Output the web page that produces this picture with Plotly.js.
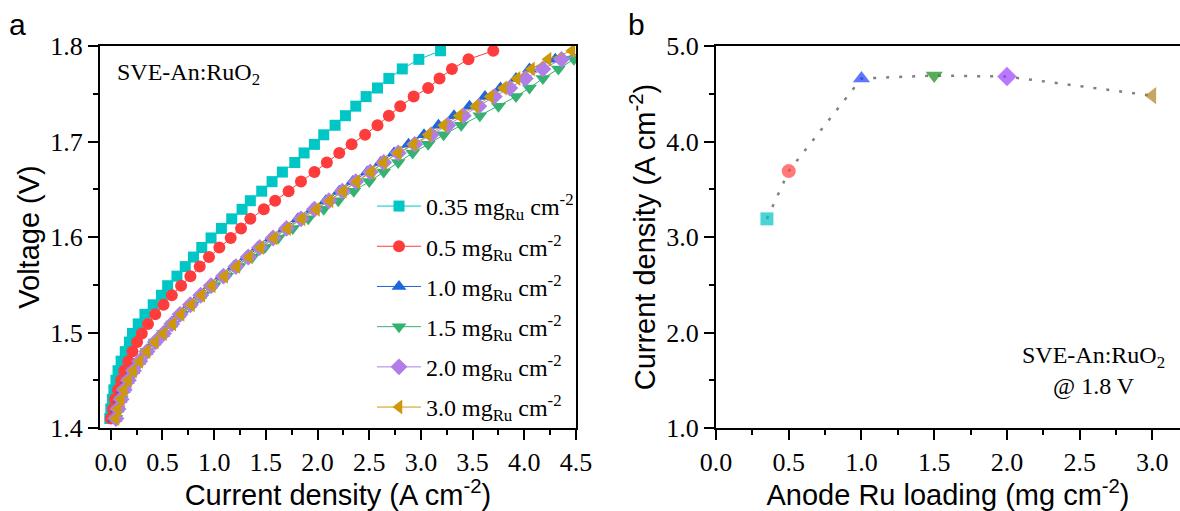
<!DOCTYPE html>
<html><head><meta charset="utf-8">
<script src="https://cdn.plot.ly/plotly-3.0.1.min.js"></script>
<style>html,body{margin:0;padding:0;background:#fff}#chart{width:1180px;height:511px}</style>
</head><body><div id="chart"></div>
<script>
// ---- Panel a: polarization curves (voltage in V, current density in A cm-2)
const voltage = [1.410,1.420,1.430,1.440,1.450,1.460,1.470,1.480,1.490,1.499,1.509,1.519,1.529,1.539,1.549,1.559,1.569,1.579,1.589,1.599,1.609,1.619,1.629,1.638,1.648,1.658,1.668,1.678,1.688,1.697,1.707,1.717,1.727,1.737,1.747,1.756,1.766,1.776,1.786,1.795];
const j_035 = [-0.01,0.00,0.015,0.03,0.05,0.07,0.10,0.14,0.18,0.21,0.265,0.33,0.41,0.49,0.55,0.64,0.72,0.80,0.88,0.97,1.07,1.17,1.27,1.35,1.46,1.56,1.66,1.78,1.87,1.97,2.06,2.17,2.27,2.37,2.47,2.58,2.69,2.82,2.98,3.19];
const j_05  = [0.00,0.02,0.04,0.07,0.10,0.13,0.17,0.21,0.255,0.30,0.36,0.43,0.51,0.59,0.68,0.77,0.86,0.95,1.05,1.16,1.26,1.35,1.48,1.59,1.72,1.84,1.97,2.09,2.21,2.33,2.46,2.58,2.69,2.80,2.93,3.07,3.18,3.30,3.46,3.70];
const j_10  = [0.04,0.06,0.09,0.12,0.16,0.21,0.27,0.34,0.42,0.50,0.58,0.66,0.76,0.86,0.96,1.07,1.19,1.31,1.42,1.55,1.68,1.81,1.95,2.08,2.21,2.34,2.48,2.61,2.74,2.88,3.03,3.17,3.32,3.47,3.62,3.77,3.92,4.05,4.30,4.66];
const j_15  = [0.05,0.07,0.10,0.13,0.17,0.22,0.28,0.35,0.43,0.51,0.60,0.69,0.79,0.89,1.00,1.12,1.24,1.37,1.49,1.62,1.76,1.91,2.06,2.20,2.35,2.50,2.64,2.78,2.92,3.07,3.22,3.39,3.57,3.75,3.92,4.05,4.18,4.33,4.48,4.69];
const j_20  = [0.05,0.07,0.10,0.13,0.17,0.22,0.28,0.35,0.43,0.51,0.59,0.67,0.77,0.87,0.97,1.09,1.21,1.33,1.44,1.57,1.70,1.84,1.97,2.11,2.24,2.37,2.51,2.64,2.78,2.94,3.10,3.26,3.41,3.56,3.71,3.86,4.01,4.18,4.36,4.68];
const j_30  = [0.05,0.07,0.10,0.13,0.17,0.22,0.28,0.35,0.43,0.51,0.60,0.68,0.78,0.88,0.98,1.10,1.22,1.34,1.45,1.58,1.71,1.85,1.99,2.12,2.25,2.38,2.52,2.64,2.78,2.93,3.07,3.22,3.37,3.53,3.67,3.80,3.93,4.07,4.23,4.46];
const loadingLabels = ['0.35','0.5','1.0','1.5','2.0','3.0'];

// ---- Panel b: current density at 1.8 V vs anode Ru loading
const loading = [0.35,0.5,1.0,1.5,2.0,3.0];
const j_at_18V = [3.19,3.69,4.66,4.69,4.68,4.48];

const seriesA = [j_035,j_05,j_10,j_15,j_20,j_30];
const colorsA = ['#00C6C6','#FF3C3C','#1E66DC','#34B270','#B07EE6','#CC9A08'];
const colorsB = ['#00C2C2','#FF4040','#1E3CFF','#128A12','#9B40FF','#B08020'];
const symbols = ['square','circle','triangle-up','triangle-down','diamond','triangle-left'];
const msizes = [11,12,13,13,13,13];

const serif = 'Liberation Serif';
const sans = 'Liberation Sans';

const traces = seriesA.map((ys,i)=>({
  x: ys, y: voltage, xaxis:'x', yaxis:'y', type:'scatter', mode:'lines+markers',
  name: loadingLabels[i] + ' mg<sub>Ru</sub> cm<sup>-2</sup>',
  legendgroup: 'g'+i,
  line:{color:colorsA[i], width:1},
  marker:{symbol:symbols[i], size:msizes[i], color:colorsA[i], line:{width:0}}
}));
traces.push({
  x: loading, y: j_at_18V, xaxis:'x2', yaxis:'y2', type:'scatter', mode:'lines+markers',
  showlegend:false,
  line:{color:'#808080', width:2.5, dash:'3px,10px'},
  marker:{symbol:symbols, size:[13,14,15,15,15,15], color:colorsB, line:{width:0}}
});

function ax(extra){
  return Object.assign({
    showline:true, linecolor:'#000', linewidth:2, ticks:'outside', ticklen:10, tickwidth:2, tickcolor:'#000',
    showgrid:false, zeroline:false, tickfont:{family:serif, size:26, color:'#000'}
  }, extra);
}
const minorStyle = (d)=>({dtick:d, ticklen:5, tickwidth:2, ticks:'outside', tickcolor:'#000'});
const titleFont = {family:sans, size:29, color:'#000'};

const layout = {
  width:1180, height:511, margin:{l:0,r:0,t:0,b:0},
  paper_bgcolor:'#fff', plot_bgcolor:'#fff',
  font:{family:serif, size:26, color:'#000'},
  showlegend:true,
  legend:{x:372/1180, y:0.64, xanchor:'left', yanchor:'top', bgcolor:'rgba(0,0,0,0)',
    font:{family:serif, size:24, color:'#000'}, tracegroupgap:6, itemwidth:44},
  xaxis: ax({domain:[0.0847,0.4881], range:[-0.105,4.5], dtick:0.5, tick0:0, tickformat:'.1f',
    mirror:true, minor:minorStyle(0.25),
    title:{text:'Current density (A cm<sup>-2</sup>)', font:titleFont, standoff:10}, anchor:'y'}),
  yaxis: ax({domain:[0.1624,0.91], range:[1.4,1.8], dtick:0.1, tick0:1.4, tickformat:'.1f',
    mirror:true, minor:minorStyle(0.05),
    title:{text:'Voltage (V)', font:titleFont, standoff:2}, anchor:'x'}),
  xaxis2: ax({domain:[0.6068,1.0], range:[0,3.19], dtick:0.5, tick0:0, tickformat:'.1f',
    mirror:true, minor:minorStyle(0.25),
    title:{text:'Anode Ru loading (mg cm<sup>-2</sup>)', font:titleFont, standoff:10}, anchor:'y2'}),
  yaxis2: ax({domain:[0.1624,0.91], range:[1,5], dtick:1, tick0:1, tickformat:'.1f',
    minor:minorStyle(0.5),
    title:{text:'Current density (A cm<sup>-2</sup>)', font:titleFont, standoff:2}, anchor:'x2'}),
  annotations:[
    {xref:'paper', yref:'paper', x:17/1180, y:1-25/511, text:'a', showarrow:false, xanchor:'center', yanchor:'middle', font:{family:sans, size:30, color:'#000'}},
    {xref:'paper', yref:'paper', x:636/1180, y:1-25/511, text:'b', showarrow:false, xanchor:'center', yanchor:'middle', font:{family:sans, size:30, color:'#000'}},
    {xref:'paper', yref:'paper', x:115/1180, y:1-74/511, text:'SVE-An:RuO<sub>2</sub>', showarrow:false, xanchor:'left', yanchor:'middle', font:{family:serif, size:24, color:'#000'}},
    {xref:'paper', yref:'paper', x:1093/1180, y:1-370/511, text:'SVE-An:RuO<sub>2</sub><br>@ 1.8 V', showarrow:false, xanchor:'center', yanchor:'middle', align:'center', font:{family:serif, size:24, color:'#000'}}
  ]
};

Plotly.newPlot('chart', traces, layout, {displayModeBar:false, staticPlot:true});
</script>
</body></html>
